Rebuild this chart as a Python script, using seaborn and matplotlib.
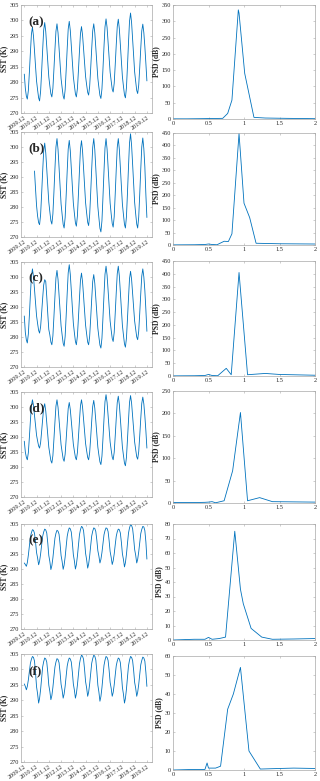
import pandas as pd
import matplotlib
matplotlib.use("Agg")
import matplotlib.pyplot as plt
import seaborn as sns

sns.set_style("ticks")
plt.rcParams["font.family"] = ["Liberation Serif", "DejaVu Serif"]

# monthly SST (K), Dec 2009 .. Dec 2019
sst_a = [
    282.6,
    278.0, 275.4, 274.5, 277.3, 283.1, 289.6, 295.5, 297.8, 294.9, 290.2, 285.1, 280.4,
    277.5, 274.9, 273.9, 277.0, 283.3, 290.4, 296.8, 299.3, 296.4, 291.6, 286.5, 281.7,
    278.8, 276.2, 275.2, 278.0, 284.0, 290.6, 296.5, 298.9, 296.0, 291.1, 286.0, 281.1,
    278.2, 275.5, 274.5, 277.5, 283.8, 290.9, 297.2, 299.7, 296.8, 291.9, 286.7, 281.8,
    278.9, 276.2, 275.2, 277.9, 283.6, 290.0, 295.7, 298.0, 295.3, 290.9, 286.2, 281.8,
    279.1, 276.7, 275.8, 278.6, 284.3, 290.8, 296.6, 298.9, 296.0, 291.2, 286.1, 281.2,
    278.3, 275.7, 274.7, 277.8, 284.2, 291.5, 297.9, 300.5, 297.7, 292.9, 287.9, 283.2,
    280.4, 277.7, 276.8, 279.6, 285.5, 292.1, 298.0, 300.4, 297.3, 292.2, 286.9, 281.8,
    278.7, 275.9, 274.9, 278.2, 285.1, 292.8, 299.7, 302.4, 299.3, 294.0, 288.6, 283.3,
    280.2, 277.3, 276.3, 279.0, 284.6, 290.9, 296.6, 298.8, 296.0, 291.5, 286.0, 280.4,
]

# series (b) starts Oct 2010
sst_b = [
    292.0, 286.0, 280.5,
    277.0, 274.8, 274.1, 277.4, 284.2, 291.8, 298.6, 301.3, 298.1, 292.7, 287.0, 281.6,
    278.4, 275.4, 274.3, 277.7, 284.8, 292.8, 300.0, 302.8, 299.2, 293.3, 287.0, 281.0,
    277.5, 274.2, 273.0, 276.5, 283.8, 292.0, 299.3, 302.2, 298.8, 293.0, 287.0, 281.3,
    277.9, 274.7, 273.6, 277.0, 284.1, 292.1, 299.3, 302.1, 298.7, 293.0, 287.1, 281.4,
    278.0, 274.9, 273.8, 277.3, 284.5, 292.7, 299.9, 302.8, 299.1, 292.9, 286.3, 280.1,
    276.4, 272.9, 271.7, 275.4, 283.2, 291.9, 299.7, 302.8, 299.3, 293.4, 287.2, 281.3,
    277.7, 274.5, 273.3, 276.8, 284.2, 292.5, 299.9, 302.8, 299.2, 293.3, 287.0, 281.0,
    277.5, 274.2, 273.0, 276.8, 284.6, 293.4, 301.3, 304.4, 300.6, 294.4, 287.8, 281.5,
    277.7, 274.3, 273.0, 276.6, 284.1, 292.5, 300.0, 303.0, 299.4, 293.4, 284.0, 276.5,
]

sst_c = [
    287.0,
    281.5, 279.0, 278.0, 281.0, 287.1, 294.1, 300.2, 302.7, 300.1, 295.9, 291.4, 287.1,
    284.5, 282.2, 281.3, 283.4, 287.9, 292.9, 297.3, 299.1, 298.5, 293.5, 287.6, 282.5,
    280.7, 278.3, 277.4, 280.4, 286.6, 293.5, 299.7, 302.2, 299.2, 294.1, 288.8, 283.7,
    280.7, 277.9, 276.9, 280.2, 287.0, 294.6, 301.4, 304.1, 300.9, 295.6, 289.9, 284.6,
    281.4, 278.5, 277.4, 280.3, 286.2, 292.9, 298.9, 301.3, 298.4, 293.7, 288.6, 283.9,
    281.0, 278.3, 277.4, 280.2, 286.1, 292.6, 298.5, 300.8, 297.9, 293.0, 287.8, 282.9,
    280.0, 277.3, 276.3, 279.6, 286.4, 294.0, 300.9, 303.6, 300.6, 295.6, 290.3, 285.3,
    282.3, 279.5, 278.5, 281.5, 287.8, 294.8, 301.1, 303.6, 300.4, 295.0, 289.3, 283.9,
    280.7, 277.7, 276.6, 279.6, 286.0, 293.0, 299.4, 301.9, 299.2, 294.6, 289.8, 285.3,
    282.6, 280.0, 279.1, 281.9, 287.8, 294.4, 300.3, 302.7, 300.0, 295.5, 289.0, 281.9,
]

sst_d = [
    288.6,
    285.0, 283.2, 282.4, 284.8, 289.8, 295.4, 300.4, 302.4, 300.5, 297.2, 293.9, 290.6,
    288.7, 287.0, 286.3, 288.1, 291.8, 295.9, 299.6, 301.1, 298.7, 294.8, 290.6, 286.6,
    284.3, 282.1, 281.3, 283.8, 289.1, 295.0, 300.3, 302.4, 299.9, 295.8, 291.5, 287.4,
    285.0, 282.7, 281.9, 284.3, 289.2, 294.6, 299.5, 301.5, 299.2, 295.4, 291.4, 287.6,
    285.3, 283.2, 282.4, 284.8, 289.8, 295.4, 300.4, 302.4, 300.0, 296.0, 291.8, 287.8,
    285.4, 283.2, 282.4, 284.8, 289.7, 295.3, 300.2, 302.2, 299.6, 295.4, 290.9, 286.6,
    284.0, 281.7, 280.8, 283.6, 289.4, 296.0, 301.8, 304.1, 301.5, 297.2, 292.6, 288.3,
    285.7, 283.3, 282.4, 284.9, 290.2, 296.2, 301.5, 303.6, 300.8, 296.2, 291.3, 286.7,
    283.9, 281.3, 280.4, 283.2, 289.1, 295.6, 301.5, 303.8, 301.3, 297.0, 292.6, 288.3,
    285.8, 283.4, 282.6, 285.1, 290.3, 296.1, 301.2, 303.3, 301.0, 297.0, 292.0, 286.3,
]

sst_e = [
    292.0,
    291.5, 290.9, 292.1, 294.6, 297.6, 300.7, 302.1, 303.1, 302.9, 301.9, 299.0, 295.5,
    293.7, 291.4, 292.6, 295.0, 297.9, 300.9, 302.3, 303.3, 303.0, 302.0, 298.6, 294.5,
    292.5, 289.8, 291.1, 293.7, 297.0, 300.3, 301.9, 302.9, 302.6, 301.6, 298.4, 294.5,
    292.5, 289.9, 291.3, 294.0, 297.5, 300.9, 302.6, 303.7, 303.4, 302.3, 298.9, 294.8,
    292.7, 290.0, 291.4, 294.3, 297.8, 301.4, 303.1, 304.2, 303.9, 302.8, 299.3, 295.2,
    293.1, 290.3, 291.6, 294.3, 297.7, 301.0, 302.6, 303.7, 303.5, 302.5, 299.6, 296.1,
    294.3, 292.0, 293.2, 295.5, 298.4, 301.4, 302.8, 303.7, 303.5, 302.5, 299.4, 295.8,
    293.9, 291.5, 292.7, 295.0, 298.0, 300.9, 302.4, 303.3, 303.1, 302.0, 298.9, 295.1,
    293.2, 290.7, 292.1, 294.9, 298.5, 302.0, 303.7, 304.8, 304.5, 303.5, 300.3, 296.5,
    294.6, 292.0, 293.2, 295.7, 298.7, 301.8, 303.2, 304.2, 304.0, 302.8, 299.0, 293.3,
]

sst_f = [
    295.3,
    294.5, 293.4, 294.5, 296.6, 299.3, 302.0, 303.3, 304.2, 303.9, 302.7, 298.9, 294.4,
    292.1, 289.1, 290.6, 293.5, 297.1, 300.8, 302.5, 303.7, 303.4, 302.4, 299.0, 294.9,
    292.9, 290.2, 291.5, 294.2, 297.5, 300.8, 302.4, 303.5, 303.2, 302.2, 299.0, 295.2,
    293.3, 290.7, 292.0, 294.6, 297.9, 301.1, 302.7, 303.7, 303.4, 302.4, 299.2, 295.3,
    293.3, 290.7, 292.1, 294.9, 298.3, 301.8, 303.5, 304.6, 304.3, 303.3, 299.9, 296.0,
    294.0, 291.3, 292.6, 295.3, 298.6, 302.0, 303.5, 304.6, 304.3, 303.1, 299.4, 294.9,
    292.7, 289.7, 291.2, 294.1, 297.7, 301.3, 303.0, 304.2, 303.9, 302.9, 299.7, 295.8,
    293.9, 291.3, 292.5, 295.0, 298.1, 301.2, 302.7, 303.7, 303.4, 302.2, 298.6, 294.2,
    292.0, 289.1, 290.6, 293.6, 297.4, 301.2, 303.0, 304.2, 303.9, 302.9, 299.7, 295.8,
    293.9, 291.3, 292.6, 295.1, 298.3, 301.5, 302.9, 304.0, 303.7, 302.7, 299.0, 294.5,
]

sst_start = ["2009-12-01", "2010-10-01", "2009-12-01", "2009-12-01", "2009-12-01", "2009-12-01"]

# power spectral density: frequency (cycles/yr) and PSD (dB)
freq_a = [0, 0.2, 0.4, 0.55, 0.7, 0.77, 0.83, 0.92, 0.93, 1.01, 1.14, 1.3, 1.6, 2.0]
psd_a = [0.5, 0.5, 1, 1.5, 2, 17, 58, 335, 325, 140, 5, 3, 2, 1]
freq_b = [0, 0.3, 0.45, 0.5, 0.55, 0.62, 0.72, 0.78, 0.83, 0.93, 1.0, 1.08, 1.17, 1.5, 2.0]
psd_b = [0.5, 1, 2, 4, 2, 1, 15, 14, 45, 448, 168, 110, 7, 5, 4]
freq_c = [0, 0.3, 0.45, 0.5, 0.55, 0.63, 0.75, 0.82, 0.93, 1.05, 1.2, 1.3, 1.5, 2.0]
psd_c = [0.5, 1, 2, 6, 2, 1, 30, 5, 405, 5, 8, 10, 6, 3]
freq_d = [0, 0.3, 0.45, 0.5, 0.55, 0.6, 0.72, 0.84, 0.95, 1.05, 1.22, 1.4, 1.7, 2.0]
psd_d = [1, 1, 1.5, 2, 3, 0.5, 5, 72, 202, 5, 12, 3, 2.5, 2]
freq_e = [0, 0.3, 0.45, 0.5, 0.55, 0.65, 0.74, 0.87, 0.95, 0.99, 1.1, 1.25, 1.4, 1.7, 2.0]
psd_e = [0, 0.5, 0.5, 1.8, 0.5, 1, 2, 75, 35, 25, 8, 2, 0.5, 0.7, 1]
freq_f = [0, 0.3, 0.45, 0.48, 0.5, 0.6, 0.67, 0.77, 0.85, 0.95, 1.07, 1.23, 1.5, 1.7, 2.0]
psd_f = [0, 0.3, 0.3, 3.7, 1, 1, 2, 32, 40, 54, 10, 0.5, 0.8, 1, 0.8]

psd_ylim = [350, 450, 450, 250, 80, 60]
psd_step = [50, 50, 50, 50, 10, 10]
panel_tags = ["(a)", "(b)", "(c)", "(d)", "(e)", "(f)"]
year_labels = ["2009.12", "2010.12", "2011.12", "2012.12", "2013.12", "2014.12",
               "2015.12", "2016.12", "2017.12", "2018.12", "2019.12"]
freq_ticks = [0, 0.5, 1, 1.5, 2]
freq_labels = ["0", "0.5", "1", "1.5", "2"]

sst_all = [sst_a, sst_b, sst_c, sst_d, sst_e, sst_f]
freq_all = [freq_a, freq_b, freq_c, freq_d, freq_e, freq_f]
psd_all = [psd_a, psd_b, psd_c, psd_d, psd_e, psd_f]

W, H = 320, 781
fig = plt.figure(figsize=(W / 100, H / 100), dpi=100)

# pixel boxes (top, bottom) of each row
left_rows = [(5, 113), (132, 237), (262, 367), (392, 497), (524, 629), (654, 762)]
right_rows = [(5, 119), (133, 245), (261, 376), (391, 503), (524, 640), (656, 770)]
line_color = "#0072BD"
frame_color = "#a8a8a8"
tick_dates = pd.to_datetime([f"{y}-12-01" for y in range(2009, 2020)])


def style_axes(ax):
    for s in ax.spines.values():
        s.set_color(frame_color)
        s.set_linewidth(0.5)
    ax.tick_params(direction="in", length=1.5, width=0.4, color=frame_color,
                   labelsize=4.5, pad=1.5, top=True, right=True)


for i in range(6):
    # SST time series
    t, b = left_rows[i]
    ax = fig.add_axes([21 / W, 1 - b / H, 131 / W, (b - t) / H])
    df = pd.DataFrame({
        "date": pd.date_range(sst_start[i], periods=len(sst_all[i]), freq="MS"),
        "sst": sst_all[i],
    })
    sns.lineplot(data=df, x="date", y="sst", ax=ax, color=line_color, lw=0.6)
    ax.set_xlim(pd.Timestamp("2009-08-25"), pd.Timestamp("2020-05-01"))
    ax.set_ylim(270, 305)
    ax.set_yticks(range(270, 306, 5))
    ax.set_xticks(tick_dates)
    ax.set_xticklabels(year_labels, rotation=35, ha="right", rotation_mode="anchor")
    ax.set_xlabel("")
    ax.set_ylabel("SST (K)", fontsize=5.5, fontweight="bold", labelpad=1)
    style_axes(ax)
    ax.text(0.06, 0.9, panel_tags[i], transform=ax.transAxes, fontsize=9.5,
            fontweight="bold", va="top", ha="left")

    # PSD
    t, b = right_rows[i]
    ax = fig.add_axes([173 / W, 1 - b / H, 142 / W, (b - t) / H])
    sns.lineplot(x=freq_all[i], y=psd_all[i], ax=ax, color=line_color, lw=0.6)
    ax.set_xlim(0, 2)
    ax.set_ylim(0, psd_ylim[i])
    ax.set_yticks(range(0, psd_ylim[i] + 1, psd_step[i]))
    ax.set_xticks(freq_ticks)
    ax.set_xticklabels(freq_labels)
    ax.set_ylabel("PSD (dB)", fontsize=5.5, fontweight="bold", labelpad=1)
    style_axes(ax)

fig.savefig("out.png", dpi=100)
